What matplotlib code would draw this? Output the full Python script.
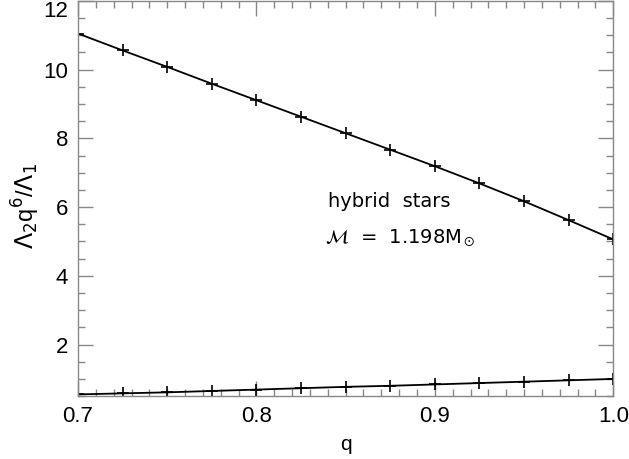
import numpy as np
import matplotlib.pyplot as plt
from matplotlib.ticker import MultipleLocator

plt.rcParams['font.family'] = ['Liberation Sans', 'DejaVu Sans']
plt.rcParams['mathtext.fontset'] = 'dejavusans'

q = [0.7, 0.725, 0.75, 0.775, 0.8, 0.825, 0.85, 0.875, 0.9, 0.925, 0.95, 0.975, 1.0]
ratio_upper = [11.05, 10.56, 10.08, 9.59, 9.11, 8.63, 8.15, 7.67, 7.19, 6.69, 6.17, 5.62, 5.06]
ratio_lower = [0.55, 0.58, 0.61, 0.65, 0.69, 0.73, 0.77, 0.80, 0.84, 0.88, 0.92, 0.96, 1.0]

fig = plt.figure(figsize=(6.29, 4.59), dpi=100)
ax = fig.add_axes([0.124, 0.137, 0.851, 0.861])

ax.plot(q, ratio_upper, color='black', lw=1.3, marker='+', ms=8, mew=1.2)
ax.plot(q, ratio_lower, color='black', lw=1.3, marker='+', ms=8, mew=1.2)

ax.set_xlim(0.7, 1.0)
ax.set_ylim(0.5, 12)
ax.xaxis.set_major_locator(MultipleLocator(0.1))
ax.xaxis.set_minor_locator(MultipleLocator(0.01))
ax.yaxis.set_minor_locator(MultipleLocator(0.5))
ax.set_yticks([2, 4, 6, 8, 10, 12])

for s in ax.spines.values():
    s.set_color('#888888')
    s.set_linewidth(1.0)
ax.tick_params(which='both', direction='in', top=True, right=True, color='#888888')
ax.tick_params(which='major', length=11, width=1.0, labelsize=16, pad=7)
ax.tick_params(which='minor', length=5, width=1.0)

# keep the top label inside the figure
fig.canvas.draw()
ax.get_yticklabels()[-1].set_va('top')

ax.set_xlabel('q', fontsize=15, labelpad=6)
ax.set_ylabel(r'$\Lambda_2$q$^6$/$\Lambda_1$', fontsize=17)
ax.yaxis.set_label_coords(-0.068, 0.48)

ax.text(0.840, 5.99, 'hybrid  stars', fontsize=14, family='DejaVu Sans', va='baseline', ha='left')
ax.text(0.8385, 4.94, r'$\mathcal{M}$  =  1.198M$_\odot$', fontsize=14, family='DejaVu Sans',
        math_fontfamily='stix', va='baseline', ha='left')

plt.savefig('out.png', dpi=100)
